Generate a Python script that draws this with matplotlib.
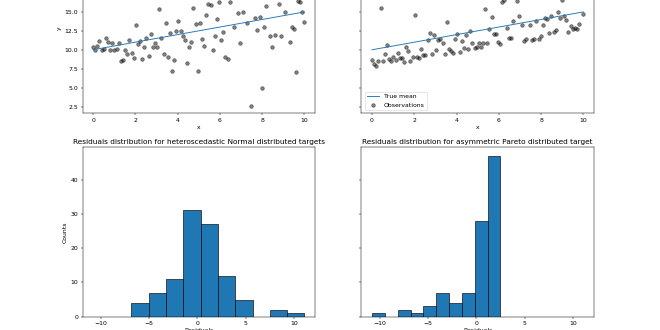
import matplotlib
matplotlib.use("Agg")
import matplotlib.pyplot as plt
import numpy as np

# x grid of the observations (100 evenly spaced points on [0, 10])
x_obs = np.linspace(0, 10, 100)

# true mean line end points
mean_x = [0, 10]
mean_y = [10.0, 15.0]

# heteroscedastic Normal observations (values > 17 are out of frame)
y_normal = [
    10.3, 10.0, 10.55, 11.1, 10.0, 10.1, 11.5, 11.0, 10.0, 10.95,
    10.0, 10.1, 10.9, 8.5, 8.65, 10.0, 9.5, 11.3, 9.6, 8.85,
    13.25, 10.7, 11.2, 8.8, 10.3, 11.5, 9.2, 12.1, 10.3, 10.95,
    10.3, 15.4, 11.6, 9.4, 13.5, 9.0, 12.2, 7.25, 8.65, 12.45,
    13.85, 12.5, 11.8, 11.35, 8.2, 10.3, 11.0, 15.45, 13.45, 7.25,
    13.5, 11.4, 10.45, 14.6, 16.0, 15.85, 10.0, 11.8, 14.05, 16.35,
    11.3, 12.4, 9.1, 8.75, 16.25, 18.6, 13.05, 19.8, 14.85, 10.9,
    14.95, 17.9, 13.5, 20.4, 2.6, 18.2, 14.2, 12.6, 14.35, 5.0,
    13.05, 15.75, 21.3, 11.8, 10.4, 11.9, 19.0, 16.05, 11.85, 17.7,
    15.05, 20.9, 11.0, 13.0, 12.7, 7.0, 16.45, 16.3, 15.0, 13.7,
]

# asymmetric Pareto observations
y_pareto = [
    8.66, 8.08, 7.91, 8.52, 15.48, 8.52, 9.41, 10.64, 8.83, 8.57,
    9.10, 8.61, 9.58, 8.88, 8.88, 8.39, 10.42, 9.89, 8.52, 9.01,
    14.65, 9.05, 8.92, 10.07, 9.32, 9.36, 11.30, 12.22, 9.45, 12.00,
    9.98, 11.26, 11.39, 10.86, 9.41, 13.63, 10.15, 9.85, 9.63, 11.43,
    12.09, 9.67, 11.12, 10.20, 12.00, 10.15, 12.49, 10.95, 10.20, 10.33,
    10.95, 10.33, 10.86, 15.40, 10.95, 12.71, 14.38, 12.09, 12.09, 11.08,
    10.73, 16.37, 16.59, 12.89, 11.61, 11.61, 13.81, 18.5, 16.50, 14.52,
    13.33, 11.21, 11.43, 19.5, 13.33, 11.30, 11.43, 13.81, 11.43, 11.83,
    13.28, 14.25, 14.03, 12.27, 14.52, 12.31, 12.58, 15.00, 14.25, 16.59,
    14.47, 13.94, 12.31, 13.19, 12.80, 12.89, 12.80, 13.41, 20.5, 14.74,
]

# residual histograms: range of the 10 bins and counts per bin
normal_range = (-6.83, 11.07)
normal_counts = [4, 7, 11, 31, 27, 12, 5, 0, 2, 1]
pareto_range = (-10.81, 2.48)
pareto_counts = [1, 0, 2, 1, 3, 7, 4, 7, 28, 47]

# y ticks visible in the cropped top row
y_ticks = [2.5, 5.0, 7.5, 10.0, 12.5, 15.0]

fig, axs = plt.subplots(nrows=2, ncols=2, figsize=(15, 7.5), dpi=44,
                        sharex="row", sharey="row")

# the picture is a crop of a taller figure: top row runs off the top edge
W, H = 0.3523, 0.5133
axs[0, 0].set_position([0.125, 0.6567, W, H])
axs[0, 1].set_position([0.5477, 0.6567, W, H])
axs[1, 0].set_position([0.125, 0.0403, W, H])
axs[1, 1].set_position([0.5477, 0.0403, W, H])

for ax, y_obs in [(axs[0, 0], y_normal), (axs[0, 1], y_pareto)]:
    ax.plot(mean_x, mean_y, label="True mean")
    ax.scatter(x_obs, y_obs, color="black", alpha=0.5, label="Observations")
    ax.set_xlabel("x")

for ax, rng, counts in [(axs[1, 0], normal_range, normal_counts),
                        (axs[1, 1], pareto_range, pareto_counts)]:
    edges = np.linspace(rng[0], rng[1], len(counts) + 1)
    ax.hist(edges[:-1], bins=edges, weights=counts, edgecolor="black")
    ax.set_xlabel("Residuals")

axs[1, 0].set_title("Residuals distribution for heteroscedastic Normal distributed targets")
axs[1, 1].set_title("Residuals distribution for asymmetric Pareto distributed target")
axs[0, 1].legend(loc="lower left")
axs[0, 0].set_ylabel("y")
axs[1, 0].set_ylabel("Counts")

axs[0, 0].set_ylim(1.61, 23.98)
axs[0, 0].set_yticks(y_ticks)
axs[1, 0].set_ylim(0, 49.4)
axs[1, 0].set_xlim(-11.9, 12.17)

fig.savefig("out.png", dpi=44)
